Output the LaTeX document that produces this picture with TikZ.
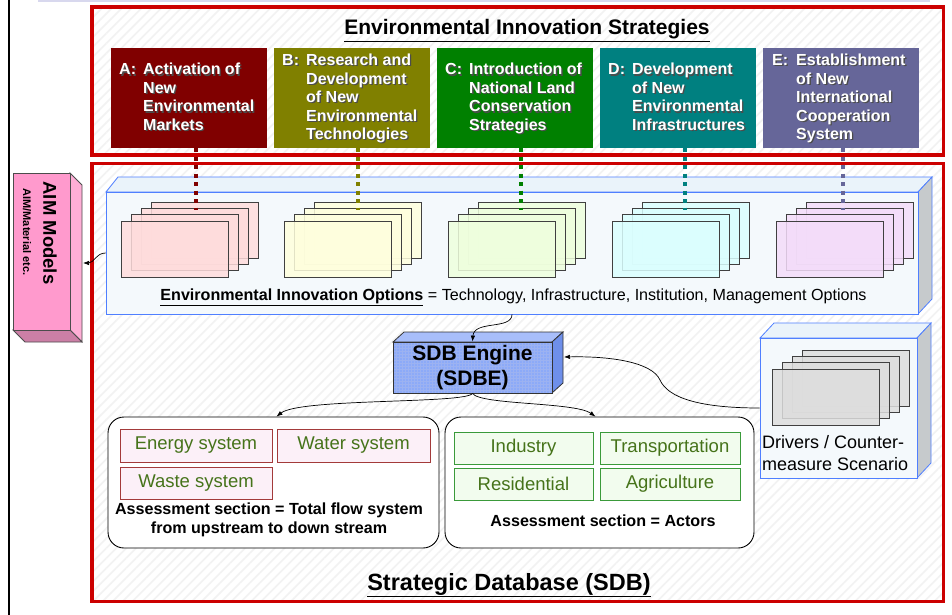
\documentclass[tikz,border=0pt]{standalone}
\usepackage{fontspec}
\setmainfont{Liberation Sans}
\usetikzlibrary{patterns,patterns.meta,arrows.meta}
\definecolor{frred}{HTML}{CC0000}
\definecolor{colA}{HTML}{800000}
\definecolor{colB}{HTML}{808000}
\definecolor{colC}{HTML}{008000}
\definecolor{colD}{HTML}{008080}
\definecolor{colE}{HTML}{666699}
\definecolor{cubeblue}{HTML}{4F7FFF}
\definecolor{optfront}{HTML}{F4F9FC}
\definecolor{opttop}{HTML}{EAF3FA}
\definecolor{cubeside}{HTML}{C6CACC}
\definecolor{pgA}{HTML}{FFDCDC}
\definecolor{pgB}{HTML}{FFFFDD}
\definecolor{pgC}{HTML}{EEFFDD}
\definecolor{pgD}{HTML}{DBFFFF}
\definecolor{pgE}{HTML}{F3DCF9}
\definecolor{pgG}{HTML}{DDDDDD}
\definecolor{aimfront}{HTML}{FF9ACD}
\definecolor{aimside}{HTML}{FFAED6}
\definecolor{aimbottom}{HTML}{CC7FA6}
\definecolor{sdbfill}{HTML}{8CAAF8}
\definecolor{sdbgrid}{HTML}{5A7FE8}
\definecolor{sdbtop}{HTML}{A8BEFA}
\definecolor{sdbside}{HTML}{6E8FEA}
\definecolor{sysred}{HTML}{A33A3A}
\definecolor{syspink}{HTML}{FCF0F8}
\definecolor{actgreen}{HTML}{3A9A3A}
\definecolor{actfill}{HTML}{F2FCEE}
\definecolor{systext}{HTML}{46731A}
\definecolor{topline}{HTML}{D8D8EE}
\newcommand\pagestack[3]{%
  \foreach \k in {3,2,1,0}{%
    \draw[sheet,fill=#3] ({#1+10*\k},{#2-6.3*\k}) rectangle ++(107,56);}}
\newcommand\stratpair[4]{%
  \node[stratsh] (#1sh) at ({#2+1.3},100.3) {\begin{tabular}{@{}l@{}l@{}}\makebox[24pt][l]{#3}&#4\end{tabular}};
  \node[strattxt] (#1tx) at (#2,99) {\begin{tabular}{@{}l@{}l@{}}\makebox[24pt][l]{#3}&#4\end{tabular}};}
\begin{document}
\begin{tikzpicture}[x=1pt,y=-1pt,
  frame/.style={draw=frred,line width=3.5pt},
  hatch/.style={pattern={Lines[angle=45,distance=7pt,line width=1.6pt]},pattern color=gray!10},
  stratbox/.style={minimum width=156pt,minimum height=100pt,inner sep=0pt,outer sep=0pt},
  strattxt/.style={anchor=west,inner sep=0pt,text=white,font=\fontsize{16}{18.5}\selectfont\bfseries},
  stratsh/.style={anchor=west,inner sep=0pt,text=black!70,font=\fontsize{16}{18.5}\selectfont\bfseries},
  conn/.style={line width=4pt,dash pattern=on 4pt off 4.5pt},
  sheet/.style={draw=black!75,line width=0.8pt,fill opacity=0.85},
  cubeface/.style={draw=cubeblue,line width=0.8pt},
  arr/.style={-{Latex[length=6pt,width=4.5pt]},line width=0.7pt,black},
  sysbox/.style={draw=sysred,fill=syspink,line width=0.9pt,minimum height=33pt,inner sep=0pt,text=systext,font=\fontsize{18.5}{20}\selectfont},
  actbox/.style={draw=actgreen,fill=actfill,line width=0.9pt,minimum height=32pt,inner sep=0pt,text=systext,font=\fontsize{18.5}{20}\selectfont},
  assess/.style={draw=black,line width=0.9pt,fill=white,rounded corners=16pt,inner sep=0pt}
]
\useasboundingbox (0,0) rectangle (952,615);
\fill[white] (0,0) rectangle (952,615);
% page edges
\draw[line width=2pt] (8.5,0) -- (8.5,615);
\draw[topline,line width=2pt] (38,1) -- (930,1);
% frames
\path[hatch] (92,7) rectangle (943.5,155);
\path[hatch] (92,163.5) rectangle (943.5,601.5);
\draw[frame] (92,7) rectangle (943.5,155);
\draw[frame] (92,163.5) rectangle (943.5,601.5);
% title
\node[anchor=base,font=\fontsize{21}{24}\selectfont\bfseries,inner sep=0pt] (ttl) at (527,35) {\underline{Environmental Innovation Strategies}};
% strategy boxes
\node[stratbox,fill=colA] (A) at (189,98) {};
\node[stratbox,fill=colB] (B) at (351.5,98) {};
\node[stratbox,fill=colC] (C) at (514.5,98) {};
\node[stratbox,fill=colD] (D) at (677.5,98) {};
\node[stratbox,fill=colE] (E) at (841,98) {};
\stratpair{A}{119}{A:}{Activation of\\&New\\&Environmental\\&Markets}
\stratpair{B}{282}{B:}{Research and\\&Development\\&of New\\&Environmental\\&Technologies}
\stratpair{C}{445}{C:}{Introduction of\\&National Land\\&Conservation\\&Strategies}
\stratpair{D}{608}{D:}{Development\\&of New\\&Environmental\\&Infrastructures}
\stratpair{E}{772}{E:}{Establishment\\&of New\\&International\\&Cooperation\\&System}
% options cube
\draw[cubeface,fill=opttop] (106,192) -- (118,177) -- (932,177) -- (918,192) -- cycle;
\draw[cubeface,fill=cubeside] (918,192) -- (932,177) -- (932,299) -- (918,314) -- cycle;
\node[cubeface,fill=optfront,minimum width=812pt,minimum height=122pt,inner sep=0pt] (opt) at (512,253) {};
% page stacks
\pagestack{121}{221}{pgA}
\pagestack{284}{221}{pgB}
\pagestack{448}{221}{pgC}
\pagestack{612}{221}{pgD}
\pagestack{776}{221}{pgE}
% dotted connectors
\coordinate (Aend) at (196,210);
\coordinate (Bend) at (358,210);
\coordinate (Cend) at (521,210);
\coordinate (Dend) at (685,210);
\coordinate (Eend) at (843,210);
\draw[conn,colA] (A.south -| Aend) -- (Aend);
\draw[conn,colB] (B.south -| Bend) -- (Bend);
\draw[conn,colC] (C.south -| Cend) -- (Cend);
\draw[conn,colD] (D.south -| Dend) -- (Dend);
\draw[conn,colE] (E.south -| Eend) -- (Eend);
\node[anchor=base,inner sep=0pt,font=\fontsize{16.1}{18}\selectfont] (opttxt) at (513.5,300) {\underline{\textbf{Environmental Innovation Options}} = Technology, Infrastructure, Institution, Management Options};
% AIM models
\draw[draw=black!70,line width=0.8pt,fill=aimside] (70,173) -- (82,185) -- (82,342) -- (70,330) -- cycle;
\draw[draw=black!70,line width=0.8pt,fill=aimbottom] (13,330) -- (70,330) -- (82,342) -- (25,342) -- cycle;
\node[draw=black!70,line width=0.8pt,fill=aimfront,minimum width=57pt,minimum height=157pt,inner sep=0pt] (aim) at (41.5,251.5) {};
\node[rotate=-90,inner sep=0pt,font=\fontsize{18.5}{20}\selectfont\bfseries] (aim1) at (50,233) {AIM Models};
\node[rotate=-90,inner sep=0pt,font=\fontsize{11}{12}\selectfont\bfseries] (aim2) at (27,232) {AIM/Material etc.};
\coordinate (aimside) at (83,263);
\draw[arr] (opt.west) .. controls (96,253) and (94,263) .. (aimside);
% SDB engine
\draw[draw=black!80,line width=0.8pt,fill=sdbtop] (393,342) -- (404,332) -- (563,332) -- (552,342) -- cycle;
\draw[draw=black!80,line width=0.8pt,fill=sdbside] (552,342) -- (563,332) -- (563,383) -- (552,393) -- cycle;
\node[draw=black!80,line width=0.8pt,preaction={fill=sdbfill},pattern=grid,pattern color=sdbgrid!60,minimum width=159pt,minimum height=51pt,inner sep=0pt] (sdb) at (472.5,367.5) {};
\node[align=center,inner sep=0pt,font=\fontsize{21}{25}\selectfont\bfseries] (sdbtxt) at (472.5,368) {SDB Engine\\(SDBE)};
\draw[arr] (opt.south) .. controls (512,330) and (474,320) .. (sdb.north);
% drivers cube
\draw[cubeface,fill=opttop] (760,338) -- (774,323) -- (931,323) -- (917,338) -- cycle;
\draw[cubeface,fill=cubeside] (917,338) -- (931,323) -- (931,463) -- (917,478) -- cycle;
\node[cubeface,fill=optfront,minimum width=157pt,minimum height=140pt,inner sep=0pt] (drv) at (838.5,408) {};
\pagestack{772}{369}{pgG}
\node[anchor=west,align=left,inner sep=0pt,font=\fontsize{18}{22}\selectfont] (drvtxt) at (762,453) {Drivers / Counter-\\measure Scenario};
\coordinate (sdbside) at (564,357);
\draw[arr] (drv.west) .. controls (700,408) and (668,398) .. (660,380) .. controls (652,362) and (610,356) .. (sdbside);
% assessment boxes
\node[assess,minimum width=331pt,minimum height=131pt] (lbox) at (273.5,482.5) {};
\node[assess,minimum width=309pt,minimum height=131pt] (rbox) at (599.5,482.5) {};
\draw[arr] (sdb.south) .. controls (466,404) and (300,398) .. ([xshift=3pt]lbox.north);
\draw[arr] (sdb.south) .. controls (480,405) and (575,402) .. ([xshift=-4pt]rbox.north);
\node[sysbox,minimum width=152pt] (energy) at (196,445.5) {Energy system};
\node[sysbox,minimum width=153pt] (water) at (353.5,445.5) {Water system};
\node[sysbox,minimum width=152pt,minimum height=32pt] (waste) at (196,483) {Waste system};
\node[align=center,inner sep=0pt,font=\fontsize{16.1}{19}\selectfont\bfseries] (ltxt) at (269,519.5) {Assessment section = Total flow system\\from upstream to down stream};
\node[actbox,minimum width=139pt] (industry) at (523.5,448) {Industry};
\node[actbox,minimum width=140pt] (transp) at (670,448) {Transportation};
\node[actbox,minimum width=139pt] (resid) at (523.5,484) {Residential};
\node[actbox,minimum width=140pt] (agri) at (670,484) {Agriculture};
\node[inner sep=0pt,font=\fontsize{16.1}{19}\selectfont\bfseries] (rtxt) at (603,521) {Assessment section = Actors};
% bottom title
\node[anchor=base,inner sep=0pt,font=\fontsize{23.5}{26}\selectfont\bfseries] (sdbttl) at (509,590) {\underline{Strategic Database (SDB)}};
\end{tikzpicture}
\end{document}
